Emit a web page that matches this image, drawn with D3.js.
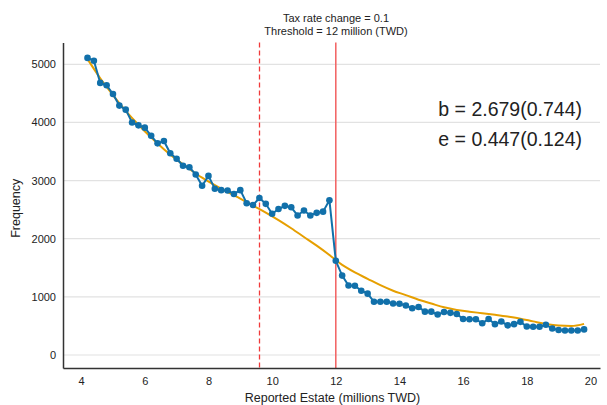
<!DOCTYPE html>
<html>
<head>
<meta charset="utf-8">
<script src="https://cdn.jsdelivr.net/npm/d3@7"></script>
<style>
  body { margin: 0; background: #fff; }
  text { font-family: "Liberation Sans", Arial, sans-serif; fill: #222; }
</style>
</head>
<body>
<div id="chart"></div>
<script>
// bins of reported estate (millions TWD)
const estateBins = d3.range(79).map(i => +(4.2 + i * 0.2).toFixed(1));
const observedCounts = [
    5110, 5060, 4680, 4640, 4490, 4290, 4220, 4000, 3950, 3910,
    3770, 3640, 3680, 3470, 3375, 3255, 3230, 3105, 2910, 3080,
    2860, 2835, 2830, 2770, 2835, 2610, 2580, 2700, 2600, 2430,
    2510, 2565, 2540, 2400, 2485, 2400, 2445, 2465, 2660, 1620,
    1365, 1195, 1190, 1105, 1055, 915, 915, 915, 885, 880,
    850, 805, 825, 745, 745, 695, 740, 725, 705, 620,
    615, 615, 545, 620, 530, 575, 510, 530, 570, 490,
    485, 485, 520, 455, 430, 420, 420, 420, 440
];
// counterfactual fit
const fitX = [4.2, 4.6, 5.0, 5.4, 5.8, 6.2, 6.6, 7.0, 7.4, 7.8, 8.2, 8.6, 9.0, 9.4, 9.8,
    10.2, 10.6, 11.0, 11.4, 11.8, 12.2, 12.6, 13.0, 13.4, 13.8, 14.2, 14.6, 15.0, 15.4,
    15.8, 16.2, 16.6, 17.0, 17.4, 17.8, 18.2, 18.6, 19.0, 19.4, 19.8];
const fitCounts = [5090, 4760, 4470, 4200, 3960, 3740, 3540, 3360, 3200, 3050, 2920, 2800, 2690, 2570, 2450,
    2320, 2180, 2030, 1880, 1720, 1550, 1420, 1310, 1200, 1105, 1030, 950, 885, 820,
    775, 745, 718, 690, 660, 625, 578, 533, 505, 498, 535];
const xTicks = [4, 6, 8, 10, 12, 14, 16, 18, 20];
const yTicks = [0, 1000, 2000, 3000, 4000, 5000];
const thresholdLine = 12;
const bunchLine = 9.6;
const titleLines = ["Tax rate change = 0.1", "Threshold = 12 million (TWD)"];
const statLines = ["b = 2.679(0.744)", "e = 0.447(0.124)"];

const W = 607, H = 405;
const plot = { left: 63, right: 600, top: 42.5, bottom: 368 };

const svg = d3.select("#chart").append("svg")
    .attr("width", W).attr("height", H);

const x = d3.scaleLinear().domain([3.43, 20.3]).range([plot.left, plot.right]);
const y = d3.scaleLinear().domain([-224, 5375]).range([plot.bottom, plot.top]);

// gridlines
svg.append("g")
    .selectAll("line")
    .data(yTicks)
    .enter().append("line")
    .attr("x1", plot.left).attr("x2", plot.right)
    .attr("y1", d => y(d)).attr("y2", d => y(d))
    .attr("stroke", "#e2e2e2").attr("stroke-width", 1.2);

// vertical reference lines
svg.append("line")
    .attr("x1", Math.round(x(bunchLine)) + 0.5).attr("x2", Math.round(x(bunchLine)) + 0.5)
    .attr("y1", plot.top).attr("y2", plot.bottom)
    .attr("stroke", "#f03a3a").attr("stroke-width", 1.3)
    .attr("stroke-dasharray", "5,3");
svg.append("line")
    .attr("x1", x(thresholdLine)).attr("x2", x(thresholdLine))
    .attr("y1", plot.top).attr("y2", plot.bottom)
    .attr("stroke", "#f26060").attr("stroke-width", 1.5);

// fitted curve
const fitLine = d3.line()
    .x((d, i) => x(fitX[i]))
    .y(d => y(d))
    .curve(d3.curveMonotoneX);
svg.append("path")
    .datum(fitCounts)
    .attr("fill", "none")
    .attr("stroke", "#e69f00")
    .attr("stroke-width", 2)
    .attr("d", fitLine);

// observed series
const obsLine = d3.line()
    .x((d, i) => x(estateBins[i]))
    .y(d => y(d));
svg.append("path")
    .datum(observedCounts)
    .attr("fill", "none")
    .attr("stroke", "#1170aa")
    .attr("stroke-width", 2)
    .attr("d", obsLine);
svg.append("g")
    .selectAll("circle")
    .data(observedCounts)
    .enter().append("circle")
    .attr("cx", (d, i) => x(estateBins[i]))
    .attr("cy", d => y(d))
    .attr("r", 3.3)
    .attr("fill", "#1170aa");

// axes
const xAxis = svg.append("g")
    .attr("transform", `translate(0,${plot.bottom})`)
    .call(d3.axisBottom(x).tickValues(xTicks).tickSize(0).tickPadding(9).tickFormat(d3.format("d")));
xAxis.select(".domain").attr("stroke", "#333").attr("stroke-width", 1.5);
xAxis.selectAll("text").attr("font-size", 11).style("font-family", "Liberation Sans, Arial, sans-serif").attr("fill", "#222");

const yAxis = svg.append("g")
    .attr("transform", `translate(${plot.left},0)`)
    .call(d3.axisLeft(y).tickValues(yTicks).tickSize(0).tickPadding(7).tickFormat(d3.format("d")));
yAxis.select(".domain").attr("stroke", "#333").attr("stroke-width", 1.5);
yAxis.selectAll("text").attr("font-size", 11).style("font-family", "Liberation Sans, Arial, sans-serif").attr("fill", "#222");

// axis titles
svg.append("text")
    .attr("x", (plot.left + plot.right) / 2 + 1)
    .attr("y", 402)
    .attr("text-anchor", "middle")
    .attr("font-size", 12.5)
    .text("Reported Estate (millions TWD)");
svg.append("text")
    .attr("transform", `translate(20,${(plot.top + plot.bottom) / 2 + 3}) rotate(-90)`)
    .attr("text-anchor", "middle")
    .attr("font-size", 12.5)
    .text("Frequency");

// title
svg.selectAll(".title-line")
    .data(titleLines)
    .enter().append("text")
    .attr("class", "title-line")
    .attr("x", 336)
    .attr("y", (d, i) => 22 + i * 13)
    .attr("text-anchor", "middle")
    .attr("font-size", 11)
    .text(d => d);

// estimates
svg.selectAll(".stat-line")
    .data(statLines)
    .enter().append("text")
    .attr("class", "stat-line")
    .attr("x", 582)
    .attr("y", (d, i) => 116 + i * 29.5)
    .attr("text-anchor", "end")
    .attr("font-size", 19.5)
    .text(d => d);
</script>
</body>
</html>
